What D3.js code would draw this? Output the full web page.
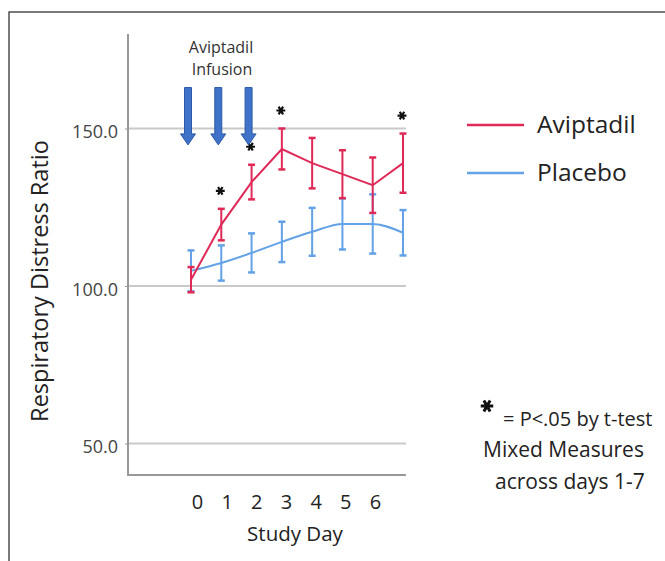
<!DOCTYPE html>
<html>
<head>
<meta charset="utf-8">
<script src="https://d3js.org/d3.v7.min.js"></script>
<style>
  body { margin: 0; background: #fff; }
  text { font-family: "Open Sans", sans-serif; }
</style>
</head>
<body>
<script>
// data
let days = [0, 1, 2, 3, 4, 5, 6, 7];
let dayLabels = ["0", "1", "2", "3", "4", "5", "6"];
let aviptadil = [102, 119.5, 133, 143.5, 139, 135.5, 132, 139];
let aviptadilErr = [4, 5, 5.5, 6.5, 8, 7.6, 8.8, 9.4];
let placebo = [104.8, 107.3, 110.5, 114, 117.2, 119.7, 119.7, 116.9];
let placeboErr = [6.5, 5.6, 6.2, 6.4, 7.6, 8.1, 9.4, 7.2];
let sigDays = [1, 2, 3, 7];
let infusionDays = [0, 1, 2];
let yTicks = [50, 100, 150];

let width = 665, height = 561;
let red = "#df2a58", blue = "#63a2e6";

let svg = d3.select("body").append("svg")
    .attr("width", width)
    .attr("height", height);

// frame
svg.append("rect")
    .attr("x", 9).attr("y", 12)
    .attr("width", 700).attr("height", 600)
    .attr("fill", "none")
    .attr("stroke", "#333")
    .attr("stroke-width", 1.3);

let x = d3.scaleLinear().domain([0, 7]).range([191, 403]);
let y = d3.scaleLinear().domain([40, 180]).range([475, 34]);
let xLab = d3.scalePoint().domain(dayLabels).range([197, 375]);

// grid lines
svg.selectAll("line.grid")
    .data(yTicks)
    .join("line")
    .attr("class", "grid")
    .attr("x1", 128).attr("x2", 406)
    .attr("y1", d => y(d)).attr("y2", d => y(d))
    .attr("stroke", "#c9c9c9")
    .attr("stroke-width", 2);

// y axis
let yAxis = d3.axisLeft(y).tickValues(yTicks).tickSize(3).tickPadding(7)
    .tickFormat(d3.format(".1f"));
let gy = svg.append("g")
    .attr("transform", "translate(128,0)")
    .call(yAxis);
gy.select(".domain").remove();
gy.selectAll(".tick line").attr("stroke", "#999");
gy.selectAll(".tick text")
    .attr("fill", "#444")
    .style("font-size", "18px")
    .attr("dy", "0.5em");

// axis lines
svg.append("path")
    .attr("d", "M128," + y(180) + "V" + y(40) + "H406")
    .attr("fill", "none")
    .attr("stroke", "#999")
    .attr("stroke-width", 2);

// x axis labels
let gx = svg.append("g")
    .attr("transform", "translate(0,495)")
    .call(d3.axisBottom(xLab).tickSize(0).tickPadding(0));
gx.select(".domain").remove();
gx.selectAll(".tick text")
    .attr("fill", "#222")
    .style("font-size", "20px");

svg.append("text")
    .attr("x", 295).attr("y", 541)
    .attr("text-anchor", "middle")
    .attr("fill", "#222")
    .style("font-size", "20.5px")
    .text("Study Day");

svg.append("text")
    .attr("transform", "translate(48,281) rotate(-90)")
    .attr("text-anchor", "middle")
    .attr("fill", "#222")
    .style("font-size", "23.5px")
    .text("Respiratory Distress Ratio");

// series
function drawSeries(vals, errs, color, curve) {
    let line = d3.line()
        .x((d, i) => x(days[i]))
        .y(d => y(d))
        .curve(curve);
    svg.append("path")
        .attr("d", line(vals))
        .attr("fill", "none")
        .attr("stroke", color)
        .attr("stroke-width", 2);
    let g = svg.append("g").attr("stroke", color).attr("stroke-width", 2);
    vals.forEach((v, i) => {
        let cx = x(days[i]);
        let lo = y(v - errs[i]), hi = y(v + errs[i]);
        g.append("line").attr("x1", cx).attr("x2", cx).attr("y1", lo).attr("y2", hi);
        g.append("line").attr("x1", cx - 3.5).attr("x2", cx + 3.5).attr("y1", lo).attr("y2", lo)
            .attr("stroke-width", 2.5);
        g.append("line").attr("x1", cx - 3.5).attr("x2", cx + 3.5).attr("y1", hi).attr("y2", hi)
            .attr("stroke-width", 2.5);
    });
}
drawSeries(placebo, placeboErr, blue, d3.curveMonotoneX);
drawSeries(aviptadil, aviptadilErr, red, d3.curveLinear);

// significance stars
let star = d3.symbol().type(d3.symbolAsterisk).size(55);
svg.selectAll("path.star")
    .data(sigDays)
    .join("path")
    .attr("class", "star")
    .attr("transform", d => "translate(" + (x(d) - 1) + "," + (y(aviptadil[d] + aviptadilErr[d]) - 18) + ") rotate(90)")
    .attr("d", star)
    .attr("fill", "none")
    .attr("stroke", "#111")
    .attr("stroke-width", 2.2);

// infusion arrows
let arrowTop = y(163), arrowTip = y(144.8);
svg.selectAll("path.arrow")
    .data(infusionDays)
    .join("path")
    .attr("class", "arrow")
    .attr("d", d => {
        let cx = x(d) - 3;
        return "M" + (cx - 3.5) + "," + arrowTop +
            "H" + (cx + 3.5) + "V" + (arrowTip - 11) +
            "H" + (cx + 7.5) + "L" + cx + "," + arrowTip +
            "L" + (cx - 7.5) + "," + (arrowTip - 11) +
            "H" + (cx - 3.5) + "Z";
    })
    .attr("fill", "#3f73c9")
    .attr("stroke", "#2d5aa6")
    .attr("stroke-width", 1);

svg.append("text")
    .attr("x", 221).attr("y", 53)
    .attr("text-anchor", "middle")
    .attr("fill", "#333")
    .style("font-size", "16px")
    .text("Aviptadil");
svg.append("text")
    .attr("x", 222).attr("y", 75)
    .attr("text-anchor", "middle")
    .attr("fill", "#333")
    .style("font-size", "16px")
    .text("Infusion");

// legend
let legend = [{name: "Aviptadil", color: red}, {name: "Placebo", color: blue}];
let lg = svg.selectAll("g.legend")
    .data(legend)
    .join("g")
    .attr("class", "legend")
    .attr("transform", (d, i) => "translate(467," + (125 + i * 48) + ")");
lg.append("line")
    .attr("x1", 0).attr("x2", 57)
    .attr("stroke", d => d.color)
    .attr("stroke-width", 2.5);
lg.append("text")
    .attr("x", 70).attr("y", 8)
    .attr("fill", "#222")
    .style("font-size", "24.5px")
    .text(d => d.name);

// note
svg.append("path")
    .attr("transform", "translate(487,406) rotate(90)")
    .attr("d", d3.symbol().type(d3.symbolAsterisk).size(110))
    .attr("fill", "none")
    .attr("stroke", "#111")
    .attr("stroke-width", 3);
svg.append("text")
    .attr("x", 503).attr("y", 426)
    .attr("fill", "#222")
    .style("font-size", "20px")
    .text("= P<.05 by t-test");
svg.append("text")
    .attr("x", 483).attr("y", 457)
    .attr("fill", "#222")
    .style("font-size", "21px")
    .text("Mixed Measures");
svg.append("text")
    .attr("x", 495).attr("y", 489)
    .attr("fill", "#222")
    .style("font-size", "21px")
    .text("across days 1-7");
</script>
</body>
</html>
